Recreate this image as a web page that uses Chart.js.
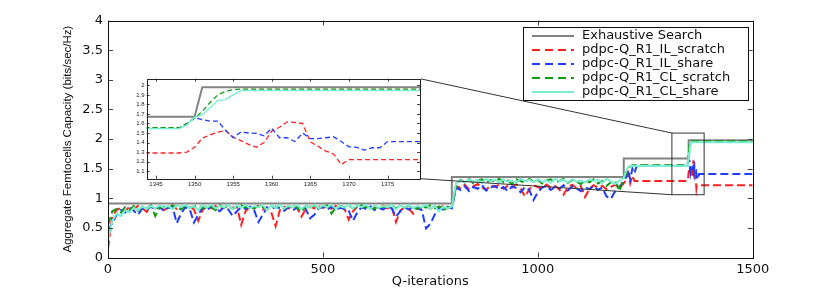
<!DOCTYPE html>
<html>
<head>
<meta charset="utf-8">
<script src="https://cdn.jsdelivr.net/npm/chart.js@4.4.1/dist/chart.umd.min.js"></script>
<style>
  body { margin: 0; background: #fff; }
  #wrap { position: relative; width: 830px; height: 291px; }
  #main { position: absolute; left: 0; top: 0; }
  #inset { position: absolute; left: 118px; top: 70px; }
</style>
</head>
<body>
<div id="wrap">
  <canvas id="main" width="830" height="291"></canvas>
  <canvas id="inset" width="310" height="125"></canvas>
</div>
<script>
// ---- data ----
const seriesNames = ['Exhaustive Search', 'pdpc-Q_R1_IL_scratch', 'pdpc-Q_R1_IL_share',
                     'pdpc-Q_R1_CL_scratch', 'pdpc-Q_R1_CL_share'];

const exhaustIters = [0, 800, 800, 1200, 1200, 1350, 1351, 1500];
const exhaustVals  = [0.91, 0.91, 1.36, 1.36, 1.67, 1.67, 1.98, 1.98];

// noisy learning phase, sampled every 10 iterations (0..1200)
const noiseIters = [0,10,20,30,40,50,60,70,80,90,100,110,120,130,140,150,160,170,180,190,
  200,210,220,230,240,250,260,270,280,290,300,310,320,330,340,350,360,370,380,390,
  400,410,420,430,440,450,460,470,480,490,500,510,520,530,540,550,560,570,580,590,
  600,610,620,630,640,650,660,670,680,690,700,710,720,730,740,750,760,770,780,790,
  800,810,820,830,840,850,860,870,880,890,900,910,920,930,940,950,960,970,980,990,
  1000,1010,1020,1030,1040,1050,1060,1070,1080,1090,1100,1110,1120,1130,1140,1150,1160,1170,1180,1190,1200];

const ilScratchNoise = [0.15,0.70,0.80,0.84,0.78,0.86,0.82,0.87,0.83,0.77,
  0.86,0.83,0.87,0.80,0.85,0.88,0.82,0.86,0.84,0.87,
  0.81,0.62,0.80,0.86,0.83,0.87,0.82,0.85,0.88,0.84,
  0.86,0.55,0.78,0.86,0.83,0.87,0.81,0.85,0.76,0.53,
  0.80,0.86,0.83,0.87,0.84,0.69,0.81,0.86,0.83,0.87,
  0.84,0.86,0.82,0.87,0.85,0.83,0.64,0.78,0.86,0.84,
  0.87,0.82,0.86,0.84,0.88,0.83,0.86,0.60,0.79,0.85,
  0.83,0.74,0.86,0.84,0.87,0.82,0.86,0.84,0.87,0.83,
  0.85,
  1.21,1.17,1.23,1.15,1.20,1.24,1.18,1.14,1.22,1.19,
  1.23,1.16,1.21,1.18,1.24,1.17,1.03,1.15,1.22,1.19,
  1.16,1.23,1.18,1.21,1.15,1.06,1.19,1.23,1.17,1.21,
  1.02,1.16,1.22,1.18,1.21,1.15,1.19,1.23,1.17,1.25];

const ilShareNoise = [0.45,0.58,0.72,0.80,0.76,0.84,0.79,0.72,0.83,0.80,
  0.86,0.81,0.85,0.79,0.84,0.86,0.58,0.74,0.85,0.82,
  0.59,0.72,0.84,0.80,0.86,0.82,0.78,0.85,0.81,0.70,
  0.78,0.85,0.82,0.86,0.80,0.60,0.72,0.84,0.81,0.86,
  0.83,0.79,0.85,0.80,0.84,0.86,0.82,0.66,0.72,0.83,
  0.85,0.81,0.86,0.80,0.84,0.82,0.79,0.62,0.76,0.85,
  0.82,0.86,0.80,0.84,0.81,0.86,0.83,0.69,0.78,0.85,
  0.81,0.86,0.83,0.80,0.49,0.57,0.72,0.84,0.81,0.86,
  0.83,
  1.18,1.14,1.20,1.12,1.19,1.16,1.22,1.13,1.18,1.21,
  1.15,1.19,1.12,1.20,1.17,1.10,1.19,1.14,0.97,1.10,
  1.18,1.21,1.14,1.19,1.16,1.22,1.13,1.20,1.17,1.12,
  1.19,1.15,1.21,1.14,1.18,1.03,0.99,1.12,1.20,1.28];

const clScratchNoise = [0.55,0.78,0.82,0.76,0.85,0.80,0.87,0.79,0.86,0.83,
  0.88,0.70,0.84,0.86,0.82,0.88,0.85,0.81,0.88,0.84,
  0.86,0.88,0.83,0.87,0.85,0.80,0.88,0.84,0.87,0.82,
  0.86,0.88,0.84,0.87,0.83,0.88,0.85,0.81,0.87,0.84,
  0.88,0.83,0.86,0.88,0.84,0.77,0.87,0.85,0.88,0.83,
  0.86,0.88,0.74,0.84,0.87,0.85,0.88,0.83,0.86,0.88,
  0.84,0.87,0.82,0.88,0.85,0.86,0.88,0.83,0.87,0.84,
  0.88,0.85,0.82,0.87,0.84,0.88,0.83,0.86,0.79,0.85,
  0.84,
  1.22,1.31,1.27,1.33,1.25,1.30,1.32,1.26,1.31,1.28,
  1.33,1.27,1.30,1.24,1.32,1.29,1.26,1.33,1.28,1.31,
  1.25,1.30,1.32,1.27,1.29,1.33,1.26,1.31,1.28,1.24,
  1.30,1.27,1.32,1.25,1.29,1.21,1.27,1.30,1.12,1.35];

const clShareNoise = [0.30,0.62,0.74,0.70,0.80,0.76,0.84,0.80,0.86,0.82,
  0.87,0.83,0.88,0.84,0.87,0.82,0.88,0.85,0.89,0.83,
  0.87,0.80,0.88,0.84,0.89,0.83,0.87,0.85,0.89,0.82,
  0.88,0.84,0.89,0.83,0.87,0.85,0.89,0.80,0.88,0.84,
  0.89,0.83,0.87,0.85,0.89,0.82,0.88,0.84,0.89,0.83,
  0.88,0.85,0.89,0.82,0.87,0.84,0.89,0.83,0.88,0.85,
  0.89,0.82,0.88,0.84,0.87,0.85,0.89,0.81,0.88,0.84,
  0.89,0.83,0.87,0.85,0.89,0.82,0.88,0.78,0.86,0.83,
  0.86,
  1.26,1.30,1.27,1.32,1.28,1.31,1.26,1.33,1.29,1.31,
  1.27,1.32,1.28,1.30,1.26,1.33,1.29,1.31,1.27,1.32,
  1.28,1.30,1.26,1.33,1.29,1.31,1.27,1.32,1.28,1.30,
  1.27,1.32,1.29,1.31,1.26,1.33,1.28,1.24,1.30,1.34];

// converged phase + the zoomed window 1344..1380
const tailIters = [1205,1210,1215,1220,1225,1230,1300,
  1344,1345,1346,1347,1348,1349,1350,1351,1352,1353,1354,1355,1356,1357,1358,1359,1360,
  1361,1362,1363,1364,1365,1366,1367,1368,1369,1370,1371,1372,1373,1374,1375,1376,1377,1378,1379,1380,
  1500];

const ilScratchTail = [1.30,1.42,1.25,1.38,1.29,1.29,1.29,
  1.29,1.29,1.29,1.29,1.29,1.30,1.35,1.445,1.48,1.51,1.526,1.456,1.42,1.38,1.35,1.40,1.52,
  1.56,1.617,1.61,1.60,1.406,1.36,1.31,1.28,1.17,1.22,1.22,1.22,1.22,1.22,1.22,1.22,1.22,1.22,1.22,1.22,
  1.22];

const ilShareTail = [1.35,1.48,1.32,1.50,1.42,1.55,1.55,
  1.55,1.55,1.55,1.55,1.55,1.60,1.66,1.64,1.625,1.625,1.53,1.45,1.51,1.50,1.495,1.47,1.55,
  1.45,1.45,1.41,1.50,1.44,1.44,1.45,1.46,1.41,1.355,1.35,1.32,1.345,1.345,1.41,1.41,1.41,1.41,1.41,1.41,
  1.41];

const clScratchTail = [1.40,1.50,1.54,1.555,1.555,1.555,1.555,
  1.555,1.555,1.555,1.555,1.555,1.60,1.656,1.726,1.82,1.90,1.937,1.955,1.96,1.96,1.96,1.96,1.96,
  1.96,1.96,1.96,1.96,1.96,1.96,1.96,1.96,1.96,1.96,1.96,1.96,1.96,1.96,1.96,1.96,1.96,1.96,1.96,1.96,
  1.96];

const clShareTail = [1.45,1.52,1.545,1.545,1.545,1.545,1.545,
  1.545,1.545,1.545,1.545,1.545,1.585,1.666,1.69,1.764,1.84,1.85,1.90,1.945,1.945,1.945,1.945,1.945,
  1.945,1.945,1.945,1.945,1.945,1.945,1.945,1.945,1.945,1.945,1.945,1.945,1.945,1.945,1.945,1.945,1.945,1.945,1.945,1.945,
  1.945];

// inset window and the rectangle marking it on the main axes
const insetX = [1343.8, 1379.2];
const insetY = [1.02, 2.07];
const zoomBoxX = [1312, 1387];
const zoomBoxY = [1.06, 2.10];

// ---- styles ----
const colors = ['#828282', '#ff1f1f', '#1f3cff', '#129a12', '#76eecf'];
const dashed = [false, true, true, true, false];

function pts(xs, ys) { return xs.map((x, i) => ({ x: x, y: ys[i] })); }

const seriesData = [
  pts(exhaustIters, exhaustVals),
  pts(noiseIters, ilScratchNoise).concat(pts(tailIters, ilScratchTail)),
  pts(noiseIters, ilShareNoise).concat(pts(tailIters, ilShareTail)),
  pts(noiseIters, clScratchNoise).concat(pts(tailIters, clScratchTail)),
  pts(noiseIters, clShareNoise).concat(pts(tailIters, clShareTail))
];

function makeDatasets(width, dash) {
  return seriesData.map((d, k) => ({
    label: seriesNames[k],
    data: d,
    borderColor: colors[k],
    borderWidth: k === 0 ? 2 : width,
    borderDash: dashed[k] ? dash : [],
    pointRadius: 0,
    fill: false,
    tension: 0,
    order: 4 - k
  }));
}

const fmt = v => String(Number(v.toFixed(1)));
const plain = v => String(v);

// MATLAB-like box with inward ticks on all four sides
const boxPlugin = {
  id: 'matlabBox',
  afterDatasetsDraw(chart, args, opts) {
    const { ctx, chartArea: a } = chart;
    const x = chart.scales.x, y = chart.scales.y;
    const len = opts.len;
    ctx.save();
    ctx.strokeStyle = opts.color;
    ctx.lineWidth = 1;
    ctx.beginPath();
    x.ticks.forEach(t => {
      const p = Math.round(x.getPixelForValue(t.value)) + 0.5;
      ctx.moveTo(p, a.bottom); ctx.lineTo(p, a.bottom - len);
      ctx.moveTo(p, a.top); ctx.lineTo(p, a.top + len);
    });
    y.ticks.forEach(t => {
      const p = Math.round(y.getPixelForValue(t.value)) + 0.5;
      ctx.moveTo(a.left, p); ctx.lineTo(a.left + len, p);
      ctx.moveTo(a.right, p); ctx.lineTo(a.right - len, p);
    });
    ctx.stroke();
    ctx.strokeStyle = opts.frame;
    ctx.strokeRect(Math.round(a.left) + 0.5, Math.round(a.top) + 0.5,
                   Math.round(a.right - a.left), Math.round(a.bottom - a.top));
    ctx.restore();
  }
};

const whitePlugin = {
  id: 'whiteBg',
  beforeDraw(chart) {
    const { ctx, chartArea: a } = chart;
    ctx.save();
    ctx.fillStyle = '#fff';
    ctx.fillRect(0, 0, a.right + 1, chart.height);
    ctx.restore();
  }
};

// ---- inset ----
const insetChart = new Chart(document.getElementById('inset'), {
  type: 'line',
  data: { datasets: makeDatasets(1.3, [5, 3]) },
  options: {
    responsive: false,
    animation: false,
    events: [],
    layout: { padding: { left: 2, right: 8, top: 8.7, bottom: 0 } },
    plugins: { legend: { display: false }, tooltip: { enabled: false },
               matlabBox: { len: 3, color: '#444', frame: '#222' } },
    scales: {
      x: {
        type: 'linear', min: insetX[0], max: insetX[1],
        grid: { display: false, drawTicks: false }, border: { display: false },
        ticks: { stepSize: 5, includeBounds: false, padding: 2, color: '#222', callback: plain,
                 font: { family: 'Liberation Sans', size: 6 }, maxRotation: 0 },
        afterFit: s => { s.height = 16.3; }
      },
      y: {
        type: 'linear', min: insetY[0], max: insetY[1],
        grid: { display: false, drawTicks: false }, border: { display: false },
        ticks: { stepSize: 0.1, includeBounds: false, padding: 2, color: '#222',
                 font: { family: 'Liberation Sans', size: 6 }, callback: fmt },
        afterFit: s => { s.width = 26.7; }
      }
    }
  },
  plugins: [whitePlugin, boxPlugin]
});

// zoom rectangle, connector lines and legend on the main axes
const overlayPlugin = {
  id: 'overlay',
  afterDraw(chart) {
    const { ctx } = chart;
    const x = chart.scales.x, y = chart.scales.y;
    const bx0 = x.getPixelForValue(zoomBoxX[0]), bx1 = x.getPixelForValue(zoomBoxX[1]);
    const by0 = y.getPixelForValue(zoomBoxY[1]), by1 = y.getPixelForValue(zoomBoxY[0]);
    ctx.save();
    ctx.strokeStyle = '#333';
    ctx.lineWidth = 1;
    ctx.strokeRect(bx0, by0, bx1 - bx0, by1 - by0);
    const ia = insetChart.chartArea;
    const ox = 118, oy = 70;
    ctx.beginPath();
    ctx.moveTo(ox + ia.right, oy + ia.top); ctx.lineTo(bx0, by0);
    ctx.moveTo(ox + ia.right, oy + ia.bottom); ctx.lineTo(bx0, by1);
    ctx.stroke();

    // legend
    const L = 523, T = 27, R = 748, B = 100;
    ctx.fillStyle = '#fff';
    ctx.fillRect(L, T, R - L, B - T);
    ctx.strokeStyle = '#111';
    ctx.strokeRect(L + 0.5, T + 0.5, R - L, B - T);
    ctx.font = '13px "DejaVu Sans"';
    ctx.textBaseline = 'middle';
    seriesNames.forEach((name, k) => {
      const yy = T + 9 + k * 14;
      ctx.strokeStyle = colors[k];
      ctx.lineWidth = 2;
      ctx.setLineDash(dashed[k] ? [8, 5] : []);
      ctx.beginPath();
      ctx.moveTo(532, yy); ctx.lineTo(574, yy);
      ctx.stroke();
      ctx.setLineDash([]);
      ctx.fillStyle = '#111';
      ctx.fillText(name, 582, yy);
    });
    ctx.restore();
  }
};

// ---- main ----
new Chart(document.getElementById('main'), {
  type: 'line',
  data: { datasets: makeDatasets(2, [8, 4]) },
  options: {
    responsive: false,
    animation: false,
    events: [],
    layout: { padding: { left: 57, right: 77.3, top: 20.5, bottom: 0 } },
    plugins: { legend: { display: false }, tooltip: { enabled: false },
               matlabBox: { len: 5, color: '#444', frame: '#111' } },
    scales: {
      x: {
        type: 'linear', min: 0, max: 1500,
        grid: { display: false, drawTicks: false }, border: { display: false },
        ticks: { stepSize: 500, padding: 4, color: '#111', maxRotation: 0, callback: plain,
                 font: { family: 'DejaVu Sans', size: 13 } },
        title: { display: true, text: 'Q-iterations', color: '#111',
                 font: { family: 'DejaVu Sans', size: 13 }, padding: { top: 0, bottom: 2 } },
        afterFit: s => { s.height = 33.5; }
      },
      y: {
        type: 'linear', min: 0, max: 4,
        grid: { display: false, drawTicks: false }, border: { display: false },
        ticks: { stepSize: 0.5, padding: 5, color: '#111', callback: fmt,
                 font: { family: 'DejaVu Sans', size: 13 } },
        title: { display: true, text: 'Aggregate Femtocells Capacity (bits/sec/Hz)', color: '#111',
                 font: { family: 'Liberation Sans', size: 11.5 }, padding: { top: 4, bottom: 4 } },
        afterFit: s => { s.width = 51; }
      }
    }
  },
  plugins: [boxPlugin, overlayPlugin]
});
</script>
</body>
</html>
